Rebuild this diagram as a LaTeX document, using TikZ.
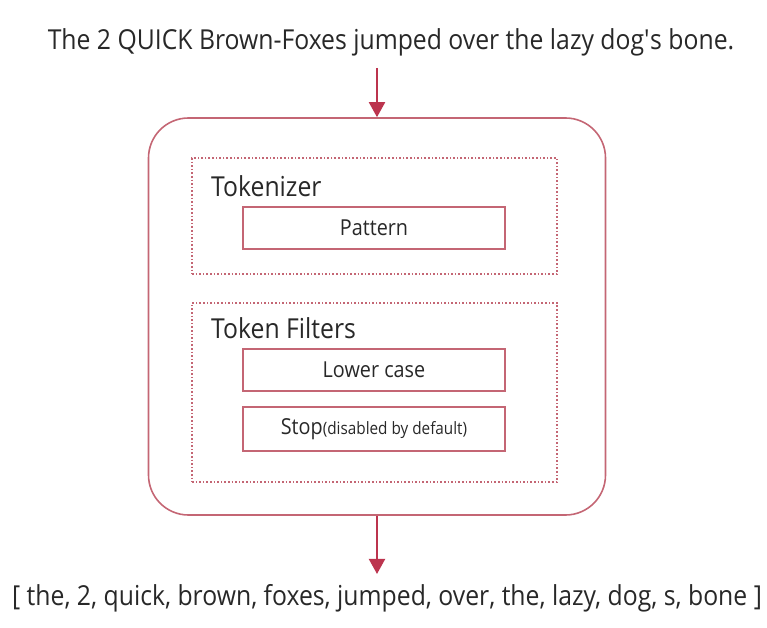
\documentclass[tikz,border=0pt]{standalone}
\usepackage{fontspec}
\setmainfont{Open Sans}[FakeStretch=0.9]
\definecolor{flowRed}{RGB}{188,52,78}
\definecolor{frameRed}{RGB}{196,102,116}
\definecolor{inkGray}{RGB}{40,40,40}
\usetikzlibrary{arrows.meta, positioning}

\begin{document}
\begin{tikzpicture}[x=1pt, y=-1pt,
    txt/.style={text=inkGray, inner sep=0pt},
    stage/.style={draw=frameRed, line width=1.6pt, dotted, minimum width=365pt},
    filterbox/.style={draw=frameRed, line width=1.2pt, minimum width=262pt, minimum height=42pt,
        text=inkGray, font=\fontsize{22}{26}\selectfont},
    flow/.style={draw=flowRed, line width=2pt, -{Triangle[width=16pt,length=15pt]}}]
    \useasboundingbox (0,0) rectangle (767,628);

    % Input sentence and output tokens
    \node[txt, font=\fontsize{27.5}{32}\selectfont] (input) at (391,42)
        {The 2 QUICK Brown-Foxes jumped over the lazy dog\textquotesingle s bone.};
    \node[txt, font=\fontsize{27.5}{32}\selectfont] (output) at (387,598)
        {[ the, 2, quick, brown, foxes, jumped, over, the, lazy, dog, s, bone ]};

    % Analyzer frame
    \node[draw=frameRed, line width=1.6pt, rounded corners=40pt,
        minimum width=457pt, minimum height=397pt] (analyzer) at (377,316.5) {};

    % Tokenizer stage
    \node[stage, minimum height=116pt] (tokenizer) at (374.5,216) {};
    \node[txt, anchor=west, font=\fontsize{27.5}{32}\selectfont] (toklabel) at (211,186) {Tokenizer};
    \node[filterbox] (pattern) at (374,228) {Pattern};

    % Token filter stage
    \node[stage, minimum height=179pt] (filters) at (374.5,392.5) {};
    \node[txt, anchor=west, font=\fontsize{27.5}{32}\selectfont] (filtlabel) at (211,328) {Token Filters};
    \node[filterbox] (lower) at (374,370) {Lower case};
    \node[filterbox, minimum height=44pt] (stop) at (374,429)
        {Stop{\fontsize{17}{20}\selectfont(disabled by default)}};

    % Flow arrows
    \draw[flow] ([yshift=-12pt]input.south -| analyzer.north) -- (analyzer.north);
    \draw[flow] (analyzer.south) -- ([yshift=10pt]output.north -| analyzer.south);
\end{tikzpicture}
\end{document}
